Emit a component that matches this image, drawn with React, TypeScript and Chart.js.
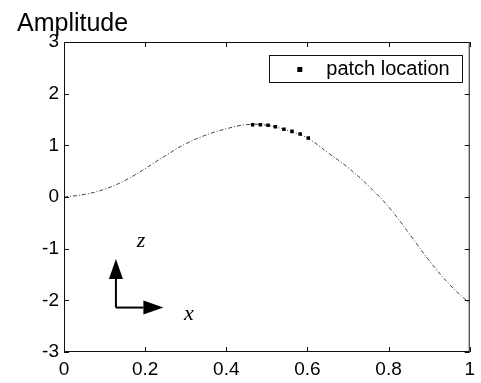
import { useEffect, useRef } from "react";
import { Chart, registerables } from "chart.js";

Chart.register(...registerables);

// ---- data ----
const curveX = [0, 0.05, 0.1, 0.15, 0.2, 0.25, 0.3, 0.35, 0.4, 0.45, 0.5, 0.55, 0.6, 0.65, 0.7, 0.75, 0.8, 0.85, 0.9, 0.95, 1.0];
const curveY = [0, 0.05, 0.15, 0.32, 0.55, 0.8, 1.03, 1.2, 1.32, 1.4, 1.39, 1.29, 1.14, 0.86, 0.57, 0.22, -0.19, -0.7, -1.23, -1.69, -2.06];
const patchX = [0.465, 0.484, 0.503, 0.521, 0.542, 0.562, 0.582, 0.602];
const patchY = [1.4, 1.4, 1.39, 1.36, 1.31, 1.27, 1.22, 1.14];
const xTicks = [0, 0.2, 0.4, 0.6, 0.8, 1];
const yTicks = [-3, -2, -1, 0, 1, 2, 3];
const yAxisTitle = "Amplitude";
const legendLabel = "patch location";

// coordinate-system sketch (data coordinates)
const sketchOrigin = { x: 0.128, y: -2.14 };
const sketchUpTip = -1.2;
const sketchRightTip = 0.245;
const zLabelPos = { x: 0.19, y: -0.85 };
const xLabelPos = { x: 0.308, y: -2.27 };

const SANS = '"Liberation Sans", Arial, sans-serif';
const SERIF = '"Liberation Serif", "Times New Roman", serif';

function arrow(ctx: CanvasRenderingContext2D, x0: number, y0: number, x1: number, y1: number) {
  const dx = x1 - x0, dy = y1 - y0;
  const len = Math.hypot(dx, dy);
  const ux = dx / len, uy = dy / len;
  const headL = 20, headW = 7;
  const bx = x1 - ux * headL, by = y1 - uy * headL;
  ctx.beginPath();
  ctx.moveTo(x0, y0);
  ctx.lineTo(bx, by);
  ctx.stroke();
  ctx.beginPath();
  ctx.moveTo(x1, y1);
  ctx.lineTo(bx - uy * headW, by + ux * headW);
  ctx.lineTo(bx + uy * headW, by - ux * headW);
  ctx.closePath();
  ctx.fill();
}

const decorPlugin = {
  id: "decor",
  afterDraw(chart: any) {
    const ctx: CanvasRenderingContext2D = chart.ctx;
    const { left, right, top, bottom } = chart.chartArea;
    const xs = chart.scales.x;
    const ys = chart.scales.y;
    ctx.save();
    // box
    ctx.strokeStyle = "#111";
    ctx.lineWidth = 1;
    ctx.strokeRect(left + 0.5, top + 0.5, right - left - 1, bottom - top - 1);
    // inward ticks
    const tl = 5;
    ctx.beginPath();
    xTicks.forEach((v) => {
      const px = Math.round(xs.getPixelForValue(v)) + 0.5;
      ctx.moveTo(px, bottom);
      ctx.lineTo(px, bottom - tl);
      ctx.moveTo(px, top);
      ctx.lineTo(px, top + tl);
    });
    yTicks.forEach((v) => {
      const py = Math.round(ys.getPixelForValue(v)) + 0.5;
      ctx.moveTo(left, py);
      ctx.lineTo(left + tl, py);
      ctx.moveTo(right, py);
      ctx.lineTo(right - tl, py);
    });
    ctx.stroke();

    // title
    ctx.fillStyle = "#000";
    ctx.font = `25px ${SANS}`;
    ctx.textAlign = "left";
    ctx.textBaseline = "alphabetic";
    ctx.fillText(yAxisTitle, 17, 31);

    // legend
    ctx.font = `20px ${SANS}`;
    const tw = ctx.measureText(legendLabel).width;
    const bw = 57 + tw + 13;
    const bh = 27;
    const bxr = right - 7;
    const bx = bxr - bw;
    const by = top + 13;
    ctx.strokeStyle = "#111";
    ctx.strokeRect(Math.round(bx) + 0.5, by + 0.5, Math.round(bw), bh);
    ctx.fillStyle = "#000";
    ctx.fillRect(bx + 28, by + 12, 5, 5);
    ctx.textBaseline = "middle";
    ctx.fillText(legendLabel, bx + 57, by + bh / 2 + 1);

    // coordinate sketch
    const ox = xs.getPixelForValue(sketchOrigin.x);
    const oy = ys.getPixelForValue(sketchOrigin.y);
    ctx.strokeStyle = "#000";
    ctx.fillStyle = "#000";
    ctx.lineWidth = 2;
    arrow(ctx, ox, oy, ox, ys.getPixelForValue(sketchUpTip));
    arrow(ctx, ox, oy, xs.getPixelForValue(sketchRightTip), oy);
    ctx.font = `italic 22px ${SERIF}`;
    ctx.textAlign = "center";
    ctx.textBaseline = "middle";
    ctx.fillText("z", xs.getPixelForValue(zLabelPos.x), ys.getPixelForValue(zLabelPos.y));
    ctx.fillText("x", xs.getPixelForValue(xLabelPos.x), ys.getPixelForValue(xLabelPos.y));
    ctx.restore();
  },
};

export default function App() {
  const ref = useRef<HTMLCanvasElement | null>(null);
  useEffect(() => {
    if (!ref.current) return;
    const chart = new Chart(ref.current, {
      type: "scatter",
      data: {
        datasets: [
          {
            label: "curve",
            data: curveX.map((x, i) => ({ x, y: curveY[i] })),
            showLine: true,
            borderColor: "#444",
            borderWidth: 1,
            borderDash: [4, 2, 1, 2],
            pointRadius: 0,
            tension: 0.4,
            order: 2,
          },
          {
            label: legendLabel,
            data: patchX.map((x, i) => ({ x, y: patchY[i] })),
            showLine: false,
            pointStyle: "rect",
            pointRadius: 2.5,
            backgroundColor: "#000",
            borderColor: "#000",
            borderWidth: 0,
            order: 1,
          },
        ],
      },
      options: {
        responsive: false,
        devicePixelRatio: 1,
        animation: false,
        layout: { padding: { top: 42, right: 4, left: 0, bottom: 0 } },
        plugins: { legend: { display: false }, tooltip: { enabled: false } },
        scales: {
          x: {
            type: "linear",
            min: 0,
            max: 1,
            afterBuildTicks: (s: any) => {
              s.ticks = xTicks.map((v) => ({ value: v }));
            },
            afterFit: (s: any) => {
              s.height = 31;
            },
            grid: { display: false, drawTicks: false },
            border: { display: false },
            ticks: {
              padding: 6,
              color: "#000",
              font: { family: SANS, size: 19 },
              maxRotation: 0,
              callback: (v: any) => String(Math.round(Number(v) * 10) / 10),
            },
          },
          y: {
            type: "linear",
            min: -3,
            max: 3,
            afterBuildTicks: (s: any) => {
              s.ticks = yTicks.map((v) => ({ value: v }));
            },
            afterFit: (s: any) => {
              s.width = 64;
            },
            grid: { display: false, drawTicks: false },
            border: { display: false },
            ticks: {
              padding: 5,
              color: "#000",
              font: { family: SANS, size: 19 },
              callback: (v: any) => String(v),
            },
          },
        },
      },
      plugins: [decorPlugin],
    });
    return () => chart.destroy();
  }, []);
  return (
    <div style={{ position: "absolute", left: 0, top: 0, width: 481, height: 383, background: "#fff" }}>
      <canvas ref={ref} width={481} height={383} style={{ display: "block" }} />
    </div>
  );
}
